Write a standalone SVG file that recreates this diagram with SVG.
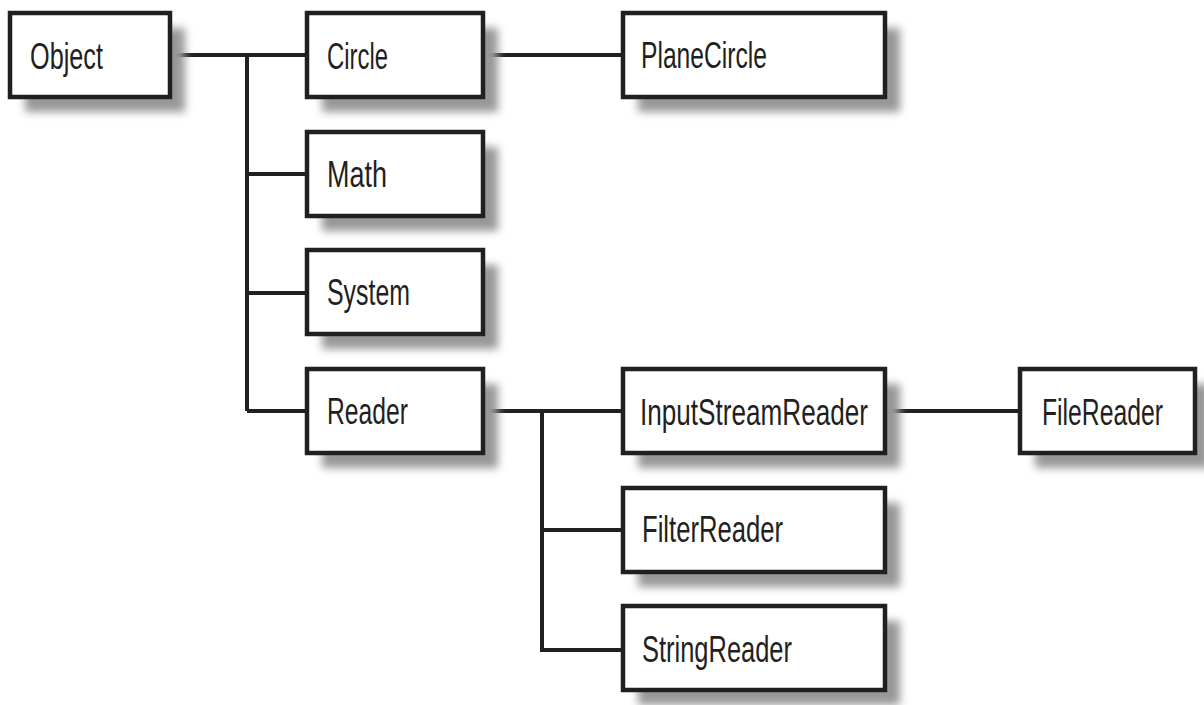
<svg xmlns="http://www.w3.org/2000/svg" width="1204" height="705" viewBox="0 0 1204 705">
<defs>
<filter id="sh" x="-20%" y="-30%" width="150%" height="180%">
<feGaussianBlur stdDeviation="4"/>
</filter>
<style>
.box{fill:#fff;stroke:#231f20;stroke-width:4.5}
.shadow{fill:#98989a;filter:url(#sh)}
.lbl{font-family:"Liberation Sans Narrow","Liberation Sans",Arial,sans-serif;font-size:36px;fill:#231f20}
.conn{fill:none;stroke:#231f20;stroke-width:4}
</style>
</defs>
<rect width="1204" height="705" fill="#fff"/>
<g id="connectors">
<path class="conn" d="M170 55 H307 M247 55 V411 M247 174 H307 M247 293 H307 M247 411 H307"/>
<path class="conn" d="M483 55 H623"/>
<path class="conn" d="M483 411 H623 M542 411 V650 H623 M542 530 H623"/>
<path class="conn" d="M885 411 H1020"/>
</g>
<g id="node-object">
<rect class="shadow" x="25" y="28" width="160" height="84"/>
<rect class="box" x="10" y="13" width="160" height="84"/>
<text class="lbl" x="30" y="69" textLength="73" lengthAdjust="spacingAndGlyphs">Object</text>
</g>
<g id="node-circle">
<rect class="shadow" x="322" y="28" width="176" height="84"/>
<rect class="box" x="307" y="13" width="176" height="84"/>
<text class="lbl" x="327" y="69" textLength="61" lengthAdjust="spacingAndGlyphs">Circle</text>
</g>
<g id="node-planecircle">
<rect class="shadow" x="638" y="28" width="262" height="84"/>
<rect class="box" x="623" y="13" width="262" height="84"/>
<text class="lbl" x="641" y="68" textLength="126" lengthAdjust="spacingAndGlyphs">PlaneCircle</text>
</g>
<g id="node-math">
<rect class="shadow" x="322" y="147" width="176" height="84"/>
<rect class="box" x="307" y="132" width="176" height="84"/>
<text class="lbl" x="327" y="187" textLength="60" lengthAdjust="spacingAndGlyphs">Math</text>
</g>
<g id="node-system">
<rect class="shadow" x="322" y="265" width="176" height="84"/>
<rect class="box" x="307" y="250" width="176" height="84"/>
<text class="lbl" x="327" y="305" textLength="83" lengthAdjust="spacingAndGlyphs">System</text>
</g>
<g id="node-reader">
<rect class="shadow" x="322" y="384" width="176" height="84"/>
<rect class="box" x="307" y="369" width="176" height="84"/>
<text class="lbl" x="327" y="424" textLength="81" lengthAdjust="spacingAndGlyphs">Reader</text>
</g>
<g id="node-inputstreamreader">
<rect class="shadow" x="638" y="384" width="262" height="84"/>
<rect class="box" x="623" y="369" width="262" height="84"/>
<text class="lbl" x="640" y="425" textLength="228" lengthAdjust="spacingAndGlyphs">InputStreamReader</text>
</g>
<g id="node-filereader">
<rect class="shadow" x="1035" y="384" width="175" height="84"/>
<rect class="box" x="1020" y="369" width="175" height="84"/>
<text class="lbl" x="1042" y="425" textLength="121" lengthAdjust="spacingAndGlyphs">FileReader</text>
</g>
<g id="node-filterreader">
<rect class="shadow" x="638" y="503" width="262" height="84"/>
<rect class="box" x="623" y="488" width="262" height="84"/>
<text class="lbl" x="642" y="542" textLength="141" lengthAdjust="spacingAndGlyphs">FilterReader</text>
</g>
<g id="node-stringreader">
<rect class="shadow" x="638" y="621" width="262" height="84"/>
<rect class="box" x="623" y="606" width="262" height="84"/>
<text class="lbl" x="642" y="662" textLength="150" lengthAdjust="spacingAndGlyphs">StringReader</text>
</g>
</svg>
